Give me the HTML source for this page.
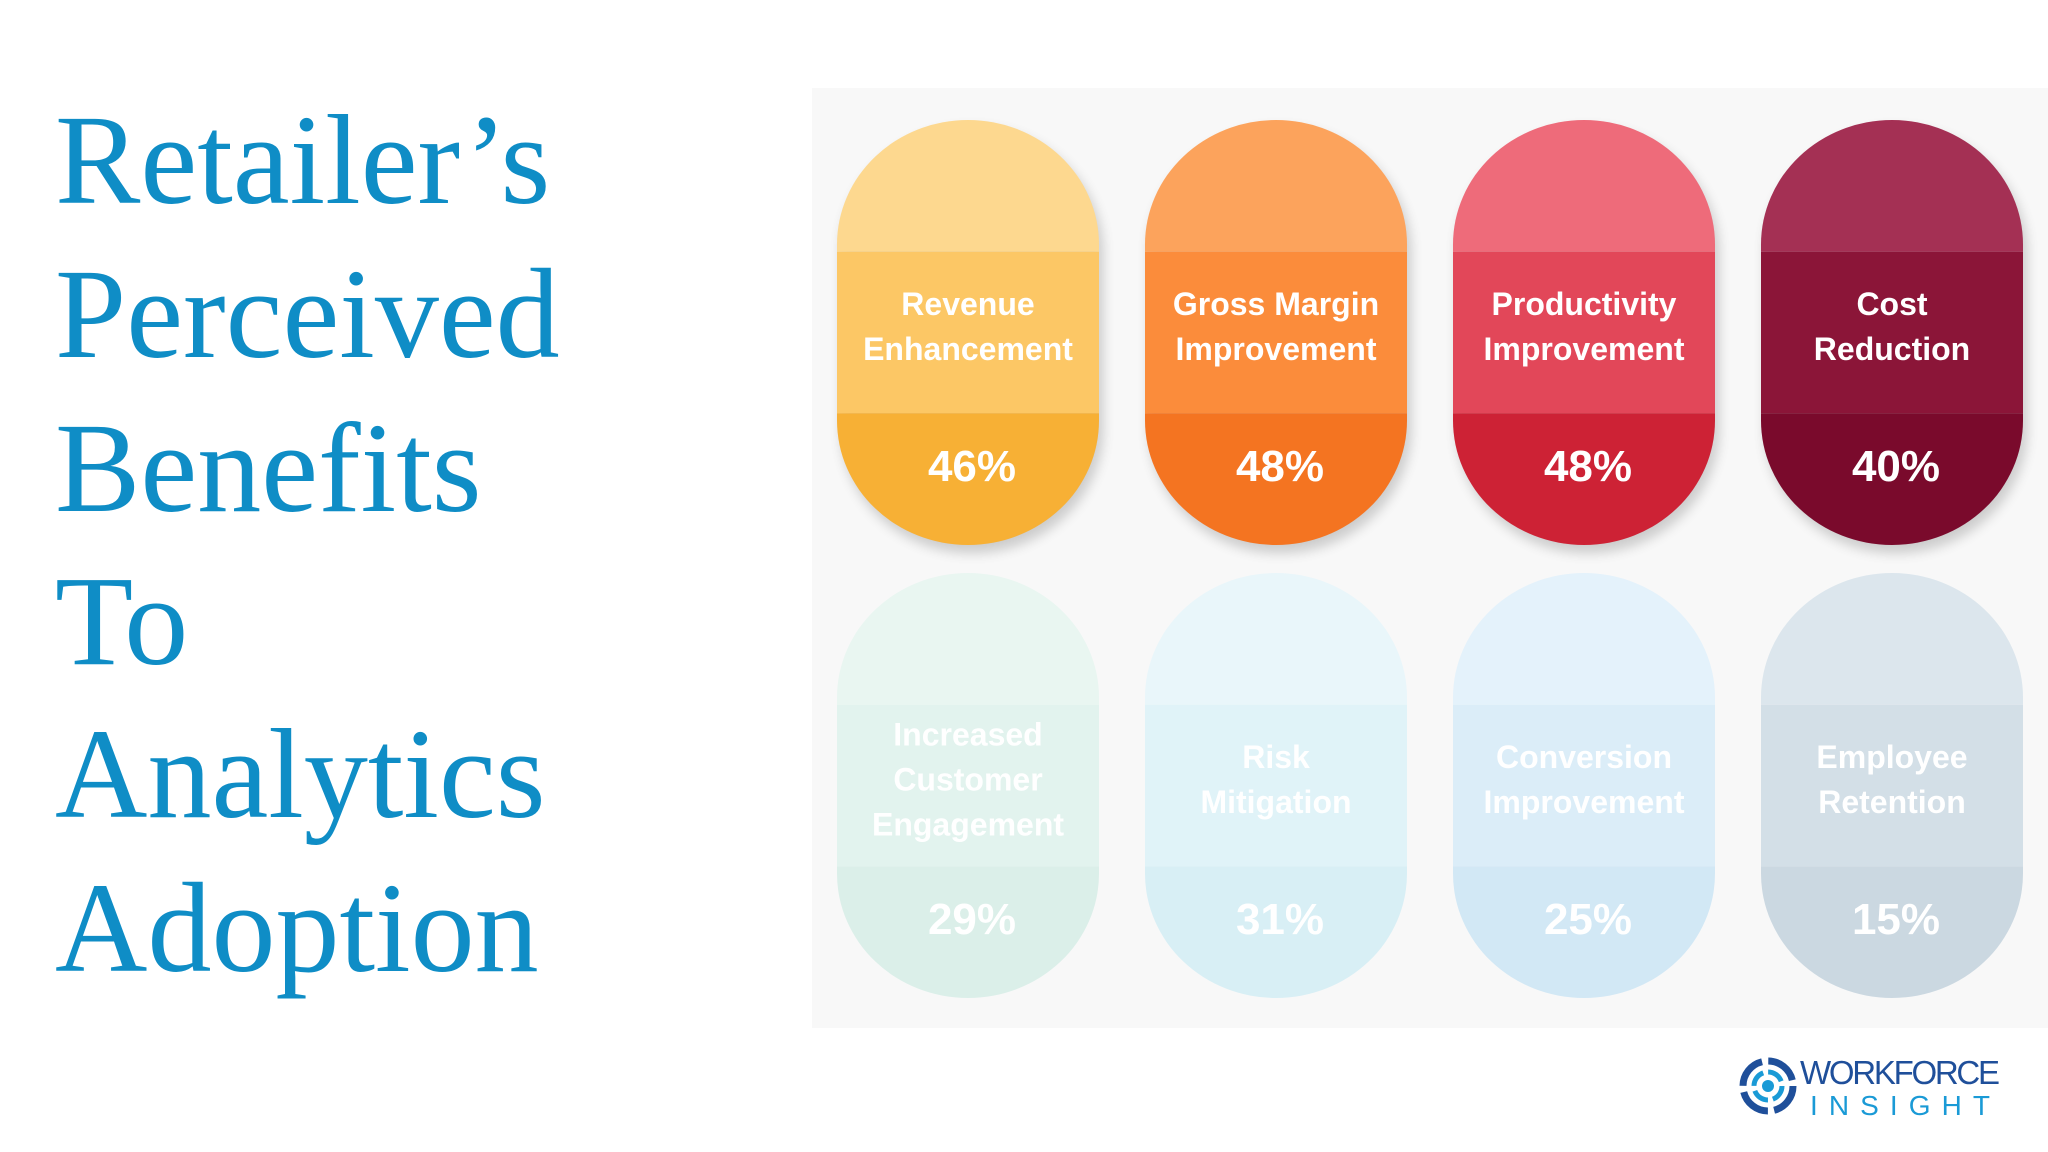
<!DOCTYPE html>
<html><head><meta charset="utf-8"><style>
html,body{margin:0;padding:0;background:#fff;}
body{width:2048px;height:1152px;position:relative;overflow:hidden;font-family:"Liberation Sans",sans-serif;}
#title{position:absolute;left:55px;top:0;font-family:"Liberation Serif",serif;color:#0f8dc6;font-size:128px;}
#title div{position:absolute;left:0;white-space:nowrap;line-height:1;}
</style></head><body>
<div id="title">
<div style="top:96px">Retailer’s</div>
<div style="top:250px">Perceived</div>
<div style="top:404px">Benefits</div>
<div style="top:557px">To</div>
<div style="top:710px">Analytics</div>
<div style="top:864px">Adoption</div>
</div>
<svg id="chart" width="2048" height="1152" style="position:absolute;left:0;top:0">
<defs><filter id="sh" x="-20%" y="-20%" width="140%" height="140%"><feGaussianBlur stdDeviation="6"/></filter></defs>
<rect x="812" y="88" width="1236" height="940" fill="#f8f8f8"/>
<g id="pills"></g>
<g transform="translate(1768,1086)">
<circle r="25" fill="none" stroke="#1f4f9a" stroke-width="7" stroke-dasharray="33 6.3"/>
<circle r="14" fill="none" stroke="#1a9ad6" stroke-width="5" stroke-dasharray="17 5"/>
<circle r="6" fill="#1a9ad6"/>
<text x="32" y="-2" font-family="Liberation Sans,sans-serif" font-size="33" fill="#1f4f9a" textLength="200">WORKFORCE</text>
<text x="42" y="29" font-family="Liberation Sans,sans-serif" font-size="28" fill="#1a9ad6" textLength="180">INSIGHT</text>
</g>
</svg>
<script>
const labels=[["Revenue","Enhancement"],["Gross Margin","Improvement"],["Productivity","Improvement"],["Cost","Reduction"],["Increased","Customer","Engagement"],["Risk","Mitigation"],["Conversion","Improvement"],["Employee","Retention"]];
const values=[46,48,48,40,29,31,25,15];
const colorsTop=["#fdd88f","#fca35c","#ee6b7a","#a43054","#e9f6f1","#e9f6fa","#e4f2fb","#dce6ed"];
const colorsMid=["#fcc765","#fb8c3b","#e24759","#8b1538","#e2f3ee","#e0f3f8","#dbedf8","#d3dfe7"];
const colorsBot=["#f7b035","#f47421","#cd2235","#7a0a2c","#dbefe9","#d8eff5","#d2e8f5","#cbd8e1"];
const NS="http://www.w3.org/2000/svg";
const g=document.getElementById('pills');
const W=262,H=425,x0=837,dx=308,rowY=[120,573];
function mk(t,a,p){const e=document.createElementNS(NS,t);for(const k in a)e.setAttribute(k,a[k]);p.appendChild(e);return e;}
labels.forEach((lab,i)=>{
  const col=i%4,row=Math.floor(i/4);
  const x=x0+col*dx,y=rowY[row];
  const grp=mk('g',{},g);
  
  
  const cid='c'+i;
  const cp=mk('clipPath',{id:cid},grp);
  mk('rect',{x:x,y:y,width:W,height:H,rx:W/2,ry:W/2*0.95},cp);
  if(row===0) mk('rect',{x:x+4,y:y+8,width:W,height:H,rx:W/2,ry:W/2*0.95,fill:'#000',opacity:0.18,filter:'url(#sh)'},grp);
  const b=mk('g',{'clip-path':'url(#'+cid+')'},grp);
  const h1=H*0.31,h2=H*0.38;
  mk('rect',{x:x,y:y,width:W,height:h1,fill:colorsTop[i]},b);
  mk('rect',{x:x,y:y+h1,width:W,height:h2,fill:colorsMid[i]},b);
  mk('rect',{x:x,y:y+h1+h2,width:W,height:H-h1-h2,fill:colorsBot[i]},b);
  const cx=x+W/2, cy=y+h1+h2/2, n=lab.length, lh=45;
  lab.forEach((ln,j)=>{
    const t=mk('text',{x:cx,y:cy+(j-(n-1)/2)*lh+5,'text-anchor':'middle','font-family':'Liberation Sans,sans-serif','font-weight':'bold','font-size':32,fill:'#fff'},grp);
    
    
    t.textContent=ln;
  });
  const v=mk('text',{x:cx+4,y:y+h1+h2+(H-h1-h2)/2+2,'text-anchor':'middle','font-family':'Liberation Sans,sans-serif','font-weight':'bold','font-size':44,fill:'#fff'},grp);
  
  
  v.textContent=values[i]+'%';
});
</script>
</body></html>
